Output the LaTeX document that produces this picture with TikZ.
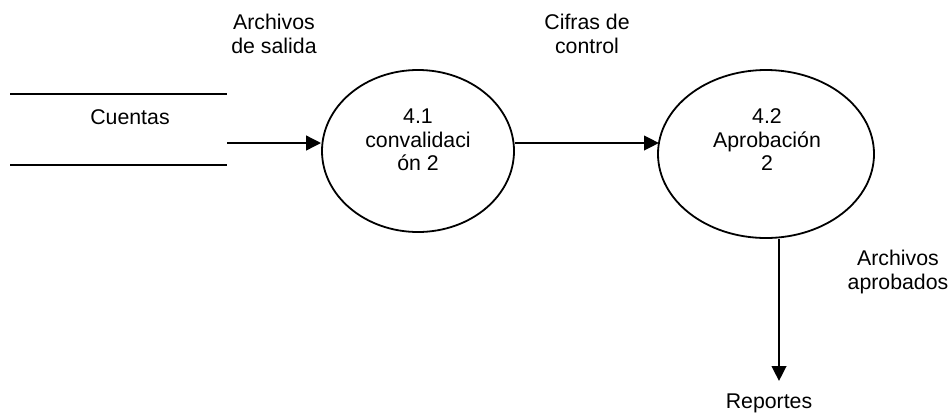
\documentclass[tikz,border=0pt]{standalone}
\usepackage{fontspec}
\setmainfont{Liberation Sans}
\usetikzlibrary{shapes.geometric,arrows.meta}
\begin{document}
\begin{tikzpicture}[x=1pt,y=-1pt,
  txt/.style={align=center,inner sep=0pt,font=\fontsize{21.3}{23.5}\selectfont},
  proc/.style={draw,ellipse,line width=1.8pt,inner sep=0pt},
  flow/.style={line width=2.6pt,-{Triangle[length=15pt,width=14.5pt]}},
  storeline/.style={line width=2pt}]
\useasboundingbox (0,0) rectangle (952,418);
% data store
\coordinate (s1a) at (10,94);
\coordinate (s1b) at (227,94);
\coordinate (s2a) at (10,165);
\coordinate (s2b) at (227,165);
\draw[storeline] (s1a) -- (s1b);
\draw[storeline] (s2a) -- (s2b);
\node[txt] (cuentas) at (130,117) {Cuentas};
% processes
\node[proc,minimum width=192pt,minimum height=162pt] (e1) at (418,151) {};
\node[proc,minimum width=216pt,minimum height=168pt] (e2) at (766,154) {};
\node[txt] (t1) at (418,140) {4.1\\convalidaci\\ón 2};
\node[txt] (t2) at (767,140) {4.2\\Aprobación\\2};
% labels
\node[txt] (l1) at (274,34) {Archivos\\de salida};
\node[txt] (l2) at (587,34) {Cifras de\\control};
\node[txt] (l3) at (898,272) {Archivos\\aprobados};
\node[txt] (rep) at (769,403) {Reportes};
% connectors
\coordinate (a0) at (227,143);
\coordinate (dn) at (779,381);
\draw[flow] (a0) -- (e1.west |- a0);
\draw[flow] (e1.east |- a0) -- (659,143) coordinate (e2in);
\draw[flow] (dn |- e2.south) -- (dn);
\end{tikzpicture}
\end{document}
